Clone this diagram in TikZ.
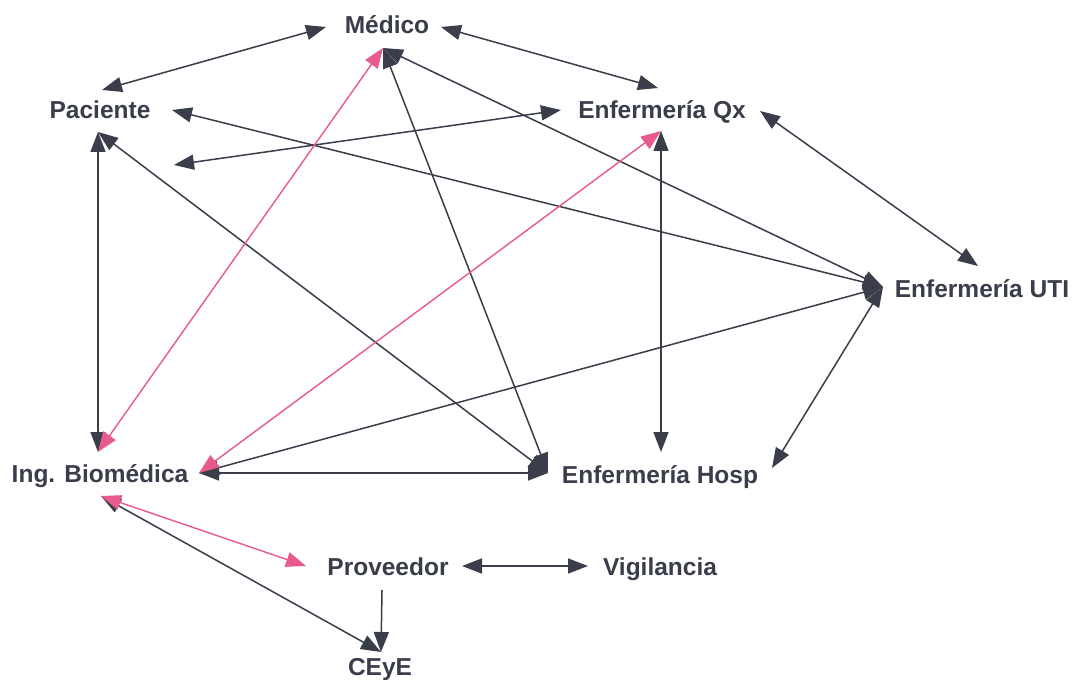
\documentclass[tikz,border=0pt]{standalone}
\usepackage{fontspec}
\setmainfont{Liberation Sans}
\usetikzlibrary{arrows.meta}
\definecolor{ink}{HTML}{3A3D4A}
\definecolor{rose}{HTML}{E8598E}
\begin{document}
\begin{tikzpicture}[x=1pt,y=-1pt,
  lbl/.style={text=ink,font=\fontsize{24.5}{28}\selectfont\bfseries,
    inner sep=0pt,text height=0.72em,text depth=0pt},
  both/.style={draw=ink,line width=1.5pt,{Triangle[length=20pt,width=15pt]}-{Triangle[length=20pt,width=15pt]}},
  one/.style={draw=ink,line width=1.5pt,-{Triangle[length=20pt,width=15pt]}},
  bothpink/.style={draw=rose,line width=1.4pt,{Triangle[length=20pt,width=15pt]}-{Triangle[length=20pt,width=15pt]}}]
\useasboundingbox[fill=white] (0,0) rectangle (1073,684);

% labels
\node[lbl] (med)  at (387,30)  {Médico};
\node[lbl] (pac)  at (100,115) {Paciente};
\node[lbl] (qx)   at (662,115) {Enfermería Qx};
\node[lbl] (uti)  at (982,294) {Enfermería UTI};
\node[lbl] (bio)  at (100,479) {Ing. Biomédica};
\node[lbl] (hosp) at (660,480) {Enfermería Hosp};
\node[lbl] (prov) at (388,572) {Proveedor};
\node[lbl] (vig)  at (660,572) {Vigilancia};
\node[lbl] (ceye) at (380,672) {CEyE};

% attachment points around the labels
\coordinate (medW)  at (326,27);
\coordinate (medE)  at (441,27);
\coordinate (medS)  at (383,48);
\coordinate (pacN)  at (102,90);
\coordinate (pacE)  at (172,110);
\coordinate (pacSE) at (174,165);
\coordinate (pacS)  at (98,132);
\coordinate (qxNW)  at (658,88);
\coordinate (qxW)   at (561,110);
\coordinate (qxS)   at (661,131);
\coordinate (qxE)   at (760,111);
\coordinate (utiW)  at (883,287);
\coordinate (utiNW) at (978,266);
\coordinate (bioN)  at (98,452);
\coordinate (bioE)  at (199,473);
\coordinate (bioS)  at (101,496);
\coordinate (hospW) at (548,473);
\coordinate (hospN) at (661,452);
\coordinate (hospE) at (772,468);
\coordinate (provW) at (306,566);
\coordinate (provE) at (462,566);
\coordinate (provS) at (382,590);
\coordinate (vigW)  at (588,566);
\coordinate (ceyeN) at (381,652);

% dark connectors
\draw[both] (medW) -- (pacN);
\draw[both] (medE) -- (qxNW);
\draw[both] (pacS) -- (bioN);
\draw[both] (qxW) -- (pacSE);
\draw[both] (pacE) -- (utiW);
\draw[both] (pacS) -- (hospW);
\draw[both] (medS) -- (hospW);
\draw[both] (medS) -- (utiW);
\draw[both] (bioE) -- (utiW);
\draw[both] (bioE) -- (hospW);
\draw[both] (qxS) -- (hospN);
\draw[both] (qxE) -- (utiNW);
\draw[both] (hospE) -- (utiW);
\draw[both] (bioS) -- (ceyeN);
\draw[both] (provE) -- (vigW);
\draw[one]  (provS) -- (ceyeN);

% pink connectors
\draw[bothpink] (bioN) -- (medS);
\draw[bothpink] (bioE) -- (qxS);
\draw[bothpink] (bioS) -- (provW);
\end{tikzpicture}
\end{document}
